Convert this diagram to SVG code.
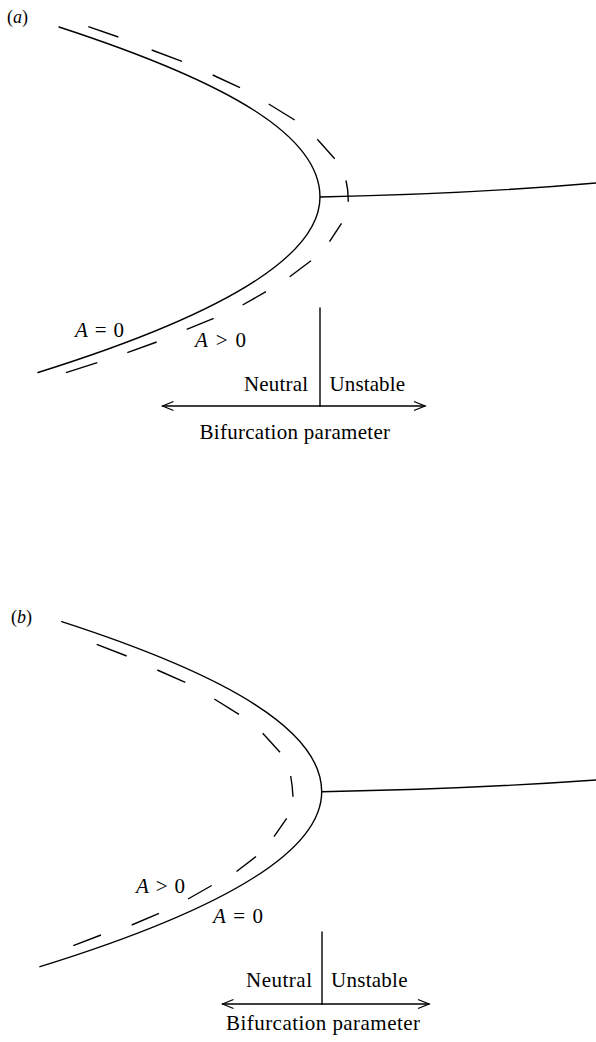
<svg xmlns="http://www.w3.org/2000/svg" width="596" height="1042" viewBox="0 0 596 1042">
<style>
.ln{fill:none;stroke:#000;stroke-width:1.4;stroke-linecap:round}
.ds{fill:none;stroke:#000;stroke-width:1.4;stroke-linecap:butt}
.t{font-family:"Liberation Serif","Times New Roman",serif;font-size:21px;fill:#000}
.lb{font-family:"Liberation Serif","Times New Roman",serif;font-size:18px;fill:#000}
.i{font-style:italic}
</style>
<defs>
<marker id="arr" markerUnits="userSpaceOnUse" markerWidth="14" markerHeight="12" viewBox="-12 -6 14 12" refX="0" refY="0" orient="auto-start-reverse">
<path d="M-11,-4.5 L0,0 L-11,4.5" fill="none" stroke="#000" stroke-width="1.3"/>
</marker>
</defs>
<rect width="596" height="1042" fill="#fff"/>

<g id="panel-a">
<text class="lb" x="7" y="22.5">(<tspan class="i">a</tspan>)</text>
<g id="curves-a">
<path class="ln" d="M59,27 C233,83.7 320,137 320,197 C320,255.3 226,313.7 38,372.5"/>
<path class="ln" d="M320,197 Q470,194 596,183"/>
<path class="ds" d="M88.3,26.7 L118.3,37 M151.7,50 L182,61.3 M212.7,75 L240,87.7 M268.7,104 L294.7,120 M317.3,139.3 L334.7,158.7 M346,180.5 Q348.5,191 348.2,201.7 M341.5,223.3 L329.5,241.7 M311,260.7 L289.7,276.7 M266,291.7 L242.6,305 M213.7,318.3 L186.7,329.3 M156.7,342 L127.3,352.7 M97.3,362.7 L66,372.7"/>
</g>
<text class="t" x="75" y="337" textLength="49"><tspan class="i">A</tspan> = 0</text>
<text class="t" x="195" y="346.7" textLength="51"><tspan class="i">A</tspan> &gt; 0</text>
<g id="axis-a">
<line class="ln" x1="320" y1="308" x2="320" y2="406"/>
<line class="ln" x1="320" y1="406" x2="162.5" y2="406" marker-end="url(#arr)"/>
<line class="ln" x1="320" y1="406" x2="425" y2="406" marker-end="url(#arr)"/>
</g>
<text class="t" x="244" y="390.5" textLength="64">Neutral</text>
<text class="t" x="329.5" y="390.5" textLength="75.5">Unstable</text>
<text class="t" x="199.5" y="438.5" textLength="190.5">Bifurcation parameter</text>
</g>

<g id="panel-b">
<text class="lb" x="11" y="623">(<tspan class="i">b</tspan>)</text>
<g id="curves-b">
<path class="ln" d="M61.7,621.7 C231.7,676.7 321.7,731.7 321.7,791.7 C321.7,850 228,908.4 40,966.7"/>
<path class="ln" d="M321.7,791.7 Q470,789 596,780"/>
<path class="ds" d="M96.7,644.3 L126.7,656 M157.3,670 L185.3,682.3 M214.3,699 L239,714.3 M262.7,733.3 L280,752.3 M290.7,776 Q292.5,786 293,796.7 M286.7,818.3 L274,836.7 M256,856.5 L236.5,871.5 M211.7,885.5 L188,899 M159,913.3 L131.7,925 M101,935 L73.3,945.7"/>
</g>
<text class="t" x="136" y="892.7" textLength="49"><tspan class="i">A</tspan> &gt; 0</text>
<text class="t" x="213" y="923" textLength="50"><tspan class="i">A</tspan> = 0</text>
<g id="axis-b">
<line class="ln" x1="322" y1="932" x2="322" y2="1004"/>
<line class="ln" x1="322" y1="1004" x2="222.5" y2="1004" marker-end="url(#arr)"/>
<line class="ln" x1="322" y1="1004" x2="429" y2="1004" marker-end="url(#arr)"/>
</g>
<text class="t" x="246" y="987.3" textLength="66">Neutral</text>
<text class="t" x="331" y="987.3" textLength="76.5">Unstable</text>
<text class="t" x="226" y="1030" textLength="194">Bifurcation parameter</text>
</g>
</svg>
